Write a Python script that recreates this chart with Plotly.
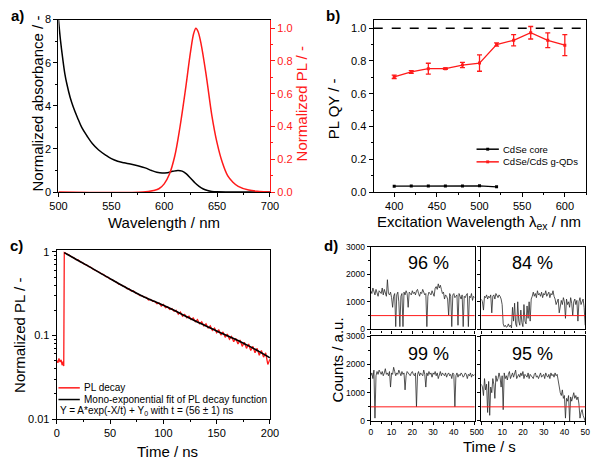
import plotly.graph_objects as go

FONT = "Liberation Sans, Arial, sans-serif"
W, H = 600, 463

# ---------------- Panel a data ----------------
abs_wl = [500, 502, 504, 506, 508, 511, 514, 518, 522, 527, 532, 538, 545, 550, 556, 562, 568, 575,
          582, 588, 593, 598, 603, 608, 613, 617, 621, 625, 629, 633, 637, 641, 645, 650, 660, 700]
abs_val = [8.0, 7.0, 6.2, 5.5, 5.0, 4.4, 3.95, 3.45, 3.0, 2.6, 2.25, 1.95, 1.7, 1.55, 1.43, 1.36, 1.3, 1.22,
           1.12, 1.0, 0.92, 0.88, 0.9, 0.96, 1.0, 0.97, 0.84, 0.64, 0.43, 0.26, 0.14, 0.07, 0.03, 0.01, 0.0, 0.0]
pl_wl = [500, 580, 590, 595, 600, 605, 610, 615, 620, 625, 628, 630, 632, 635, 640, 645, 650, 655,
         660, 665, 670, 680, 690, 700]
pl_val = [0.0, 0.0, 0.01, 0.02, 0.05, 0.11, 0.22, 0.4, 0.62, 0.86, 0.97, 1.0, 0.98, 0.9, 0.7, 0.47, 0.3, 0.18,
          0.1, 0.06, 0.035, 0.012, 0.004, 0.0]

# ---------------- Panel b data ----------------
qy_wl = [400, 420, 440, 460, 480, 500, 520, 540, 560, 580, 600]
qy_gqd = [0.703, 0.733, 0.753, 0.753, 0.775, 0.787, 0.90, 0.926, 0.972, 0.926, 0.896]
qy_gqd_err = [0.01, 0.008, 0.033, 0.004, 0.016, 0.05, 0.01, 0.034, 0.038, 0.045, 0.064]
core_wl = [400, 420, 440, 460, 480, 500, 520]
qy_core = [0.036, 0.037, 0.037, 0.037, 0.037, 0.038, 0.032]
qy_ref = 1.0
legend_b = ["CdSe core", "CdSe/CdS g-QDs"]

# ---------------- Panel c data ----------------
dec_t = [0, 1, 2, 3, 4, 5, 6, 6.5, 7] + list(range(8, 201, 2))
dec_y = [0.05, 0.047, 0.053, 0.048, 0.051, 0.044, 0.049, 0.043, 0.98,
         0.97, 0.93, 0.91, 0.87, 0.85, 0.81, 0.80, 0.76, 0.745, 0.71,
         0.70, 0.665, 0.655, 0.62, 0.605, 0.585, 0.57, 0.545, 0.535, 0.505,
         0.50, 0.47, 0.465, 0.445, 0.435, 0.41, 0.405, 0.39, 0.385, 0.36,
         0.36, 0.34, 0.34, 0.32, 0.315, 0.30, 0.30, 0.285, 0.285, 0.265,
         0.27, 0.255, 0.255, 0.24, 0.245, 0.225, 0.235, 0.215, 0.22, 0.205,
         0.21, 0.195, 0.20, 0.18, 0.19, 0.17, 0.178, 0.163, 0.17, 0.155,
         0.162, 0.146, 0.155, 0.138, 0.146, 0.13, 0.138, 0.123, 0.13, 0.115,
         0.122, 0.108, 0.117, 0.101, 0.11, 0.095, 0.104, 0.09, 0.097, 0.084,
         0.092, 0.079, 0.088, 0.074, 0.083, 0.07, 0.079, 0.066, 0.074, 0.062,
         0.07, 0.058, 0.066, 0.055, 0.062, 0.045, 0.052]
fit_t = [7, 10, 20, 30, 40, 50, 60, 70, 80, 90, 100, 110, 120, 130, 140, 150, 160, 170, 180, 190, 200]
fit_y = [0.98, 0.93, 0.79, 0.67, 0.565, 0.478, 0.405, 0.345, 0.297, 0.26, 0.23, 0.2, 0.172, 0.149,
         0.13, 0.113, 0.099, 0.087, 0.075, 0.064, 0.054]
legend_c = ["PL decay", "Mono-exponential fit of PL decay function"]
fit_note = "Y = A*exp(-X/t) + Y<sub>0</sub> with t = (56 ± 1) ns"

# ---------------- Panel d data ----------------
trace_t = [i * 0.5 for i in range(101)]
trace_96 = [1400, 1300, 1500, 1350, 1250, 1450, 1300, 1200, 1400, 1350,
            1300, 1500, 1250, 1450, 1350, 1200, 1800, 1300, 1250, 1350,
            1150, 800, 1200, 1300, 100, 1250, 1350, 1000, 100, 1200,
            1300, 100, 1350, 1250, 1400, 1300, 800, 1350, 1300, 1250,
            1400, 1300, 1350, 1250, 1400, 1450, 1300, 1200, 1350, 1300,
            1450, 1350, 1250, 1300, 100, 1200, 1350, 1300, 1250, 1400,
            1300, 1200, 1500, 1550, 1450, 1650, 1500, 1600, 1450, 1300,
            1350, 1100, 1250, 1200, 1100, 500, 1300, 1200, 100, 1250,
            1300, 1150, 1200, 1250, 150, 1300, 1200, 1100, 1250, 100,
            1200, 1150, 1250, 1300, 100, 1200, 1150, 1300, 1050, 1200, 1150]
trace_84 = [1100, 1000, 700, 1200, 1150, 1250, 1100, 1200, 1150, 1250,
            600, 1200, 1250, 1100, 1300, 1200, 1150, 1250, 1200, 1100,
            900, 200, 100, 150, 80, 100, 200, 100, 150, 50,
            800, 300, 950, 200, 100, 1000, 300, 150, 700, 250,
            100, 900, 300, 200, 850, 400, 1000, 300, 1100, 1200,
            1350, 1200, 1300, 1150, 1400, 1250, 1300, 1200, 1350, 1150,
            1300, 1250, 1400, 1200, 1300, 1350, 1150, 1300, 1250, 1400,
            1200, 1100, 900, 1000, 1100, 600, 950, 1050, 900, 1150,
            1000, 400, 1100, 900, 1000, 800, 1150, 950, 500, 1000,
            1100, 900, 1050, 300, 1000, 1150, 900, 1050, 1100, 800, 150]
trace_99 = [1600, 1700, 1500, 1800, 100, 1600, 1750, 1650, 1800, 1700,
            1650, 1750, 1600, 1700, 1850, 1650, 1700, 1600, 1750, 1200,
            1700, 1650, 1900, 1750, 1600, 1700, 1650, 1800, 1700, 1600,
            1750, 1650, 1700, 1100, 1600, 1750, 1700, 1650, 1600, 1700,
            1750, 1650, 1600, 1700, 500, 1650, 1750, 1600, 1700, 1650,
            1600, 1800, 1650, 1200, 1700, 1600, 1750, 1650, 1700, 1550,
            1700, 1650, 1750, 1600, 1700, 1500, 1650, 1750, 1600, 1700,
            1650, 1600, 1700, 1550, 1650, 1700, 1600, 1650, 1500, 1700,
            1650, 500, 1600, 1700, 1550, 1650, 1600, 1700, 1650, 1550,
            1600, 1700, 1650, 1500, 1650, 1600, 1700, 1550, 1650, 1600, 1650]
trace_95 = [1300, 1200, 900, 1500, 1100, 1300, 300, 1400, 200, 1200,
            1000, 1500, 1300, 800, 1600, 1400, 1500, 1700, 1550, 1200,
            1600, 400, 1700, 1500, 1600, 1450, 1650, 1750, 1500, 1600,
            1700, 1550, 1650, 1800, 1500, 1600, 1650, 1550, 1700, 1600,
            1750, 1500, 1650, 1600, 1550, 1700, 1500, 1650, 1600, 1550,
            1500, 1650, 1700, 1550, 1600, 1500, 1650, 1700, 1550, 1600,
            1650, 1500, 1700, 1600, 1550, 1650, 1500, 1700, 1600, 1650,
            1550, 1700, 1600, 1650, 1400, 1200, 1000, 900, 1100, 800,
            900, 100, 800, 700, 900, 0, 850, 700, 900, 1000,
            800, 900, 750, 850, 600, 100, 300, 400, 200, 100, 0]
traces_d = [trace_96, trace_84, trace_99, trace_95]
labels_d = ["96 %", "84 %", "99 %", "95 %"]
threshold = 500

RED = "#ff1a1a"

fig = go.Figure()

# Panel a
fig.add_trace(go.Scatter(x=abs_wl, y=abs_val, mode="lines", line=dict(color="black", width=1.5, shape="spline"),
                         xaxis="x", yaxis="y", showlegend=False))
fig.add_trace(go.Scatter(x=pl_wl, y=pl_val, mode="lines", line=dict(color=RED, width=1.5, shape="spline"),
                         xaxis="x", yaxis="y2", showlegend=False))

# Panel b
fig.add_trace(go.Scatter(x=core_wl, y=qy_core, mode="lines+markers", name=legend_b[0],
                         line=dict(color="black", width=1.3), marker=dict(symbol="square", size=3, color="black"),
                         xaxis="x2", yaxis="y3", showlegend=False))
fig.add_trace(go.Scatter(x=qy_wl, y=qy_gqd, mode="lines+markers", name=legend_b[1],
                         line=dict(color=RED, width=1.3), marker=dict(symbol="square", size=3, color=RED),
                         error_y=dict(type="data", array=qy_gqd_err, color=RED, thickness=1.3, width=2.5),
                         xaxis="x2", yaxis="y3", showlegend=False))

# Panel c
fig.add_trace(go.Scatter(x=dec_t, y=dec_y, mode="lines", name=legend_c[0],
                         line=dict(color=RED, width=1.3), xaxis="x3", yaxis="y4", showlegend=False))
fig.add_trace(go.Scatter(x=fit_t, y=fit_y, mode="lines", name=legend_c[1],
                         line=dict(color="black", width=1.6, shape="spline"), xaxis="x3", yaxis="y4",
                         showlegend=False))

# Panel d
for i, tr in enumerate(traces_d):
    fig.add_trace(go.Scatter(x=trace_t, y=tr, mode="lines", line=dict(color="#2a2a2a", width=0.8),
                             xaxis=f"x{4 + i}", yaxis=f"y{5 + i}", showlegend=False))

def px_x(p):
    return p / W

def px_y(p):
    return 1 - p / H

axis_common = dict(showline=True, linecolor="black", linewidth=1.3, ticks="outside", ticklen=4,
                   tickwidth=1.2, tickcolor="black", showgrid=False, zeroline=False,
                   tickfont=dict(family=FONT, size=11, color="black"))

dom_a_x = [px_x(51), px_x(269)]
dom_top_y = [px_y(191), px_y(14)]
dom_b_x = [px_x(376), px_x(595)]
dom_c_x = [px_x(49.3), px_x(269)]
dom_c_y = [px_y(424), px_y(250.7)]
dl_x = [px_x(373), px_x(480)]
dr_x = [px_x(487), px_x(594)]
dt_y = [px_y(332), px_y(247)]
db_y = [px_y(426), px_y(339)]

layout = dict(
    width=W, height=H, autosize=False, margin=dict(l=0, r=0, t=0, b=0),
    paper_bgcolor="white", plot_bgcolor="white", showlegend=False,
    font=dict(family=FONT, size=11, color="black"),
    xaxis=dict(axis_common, domain=dom_a_x, range=[500, 700], anchor="y", dtick=50, mirror=True,
               minor=dict(ticks="outside", ticklen=2, dtick=25, tickcolor="black")),
    yaxis=dict(axis_common, domain=dom_top_y, range=[0, 8], anchor="x", dtick=2,
               minor=dict(ticks="outside", ticklen=2, dtick=1, tickcolor="black")),
    yaxis2=dict(axis_common, overlaying="y", side="right", anchor="x", range=[0, 1.052], dtick=0.2,
                tickformat=".1f", linecolor=RED, tickcolor=RED, tickfont=dict(family=FONT, size=11, color=RED),
                minor=dict(ticks="outside", ticklen=2, dtick=0.1, tickcolor=RED)),
    xaxis2=dict(axis_common, domain=dom_b_x, range=[376, 625], anchor="y3", dtick=50, mirror=True,
                minor=dict(ticks="outside", ticklen=2, dtick=25, tickcolor="black")),
    yaxis3=dict(axis_common, domain=dom_top_y, range=[0, 1.052], anchor="x2", dtick=0.2, tickformat=".1f",
                mirror=True, minor=dict(ticks="outside", ticklen=2, dtick=0.1, tickcolor="black")),
    xaxis3=dict(axis_common, domain=dom_c_x, range=[0, 200], anchor="y4", dtick=50, mirror=True,
                minor=dict(ticks="outside", ticklen=2, dtick=25, tickcolor="black")),
    yaxis4=dict(axis_common, domain=dom_c_y, type="log", range=[-2, 0.02], anchor="x3", mirror=True,
                tickmode="array", tickvals=[0.01, 0.1, 1], ticktext=["0.01", "0.1", "1"],
                minor=dict(ticks="outside", ticklen=2, tickcolor="black", tickmode="array",
                           tickvals=[0.02, 0.03, 0.04, 0.05, 0.06, 0.07, 0.08, 0.09,
                                     0.2, 0.3, 0.4, 0.5, 0.6, 0.7, 0.8, 0.9])),
)

d_font = dict(family=FONT, size=8.5, color="black")
for i in range(4):
    xd = dl_x if i % 2 == 0 else dr_x
    yd = dt_y if i < 2 else db_y
    layout[f"xaxis{4 + i}"] = dict(axis_common, domain=xd, range=[0, 50], anchor=f"y{5 + i}", dtick=10,
                                   mirror=True, ticklen=3, showticklabels=(i >= 2), tickfont=d_font,
                                   minor=dict(ticks="outside", ticklen=2, dtick=5, tickcolor="black"))
    layout[f"yaxis{5 + i}"] = dict(axis_common, domain=yd, range=[0, 3000], anchor=f"x{4 + i}", dtick=1000,
                                   mirror=True, ticklen=3, showticklabels=(i % 2 == 0), tickfont=d_font,
                                   minor=dict(ticks="outside", ticklen=2, dtick=500, tickcolor="black"))

fig.update_layout(**layout)

# Reference lines
fig.add_shape(type="line", xref="x2 domain", x0=0, x1=1, yref="y3", y0=qy_ref, y1=qy_ref,
              line=dict(color="black", width=1.5, dash="dash"))
for i in range(4):
    fig.add_shape(type="line", xref=f"x{4 + i} domain", x0=0, x1=1, yref=f"y{5 + i}", y0=threshold, y1=threshold,
                  line=dict(color=RED, width=1))

def ann(text, x, y, size=15, angle=0, color="black", xanchor="center", bold=False):
    fig.add_annotation(text=f"<b>{text}</b>" if bold else text, x=px_x(x), y=px_y(y), xref="paper", yref="paper",
                       showarrow=False, textangle=angle, xanchor=xanchor, yanchor="middle",
                       font=dict(family=FONT, size=size, color=color))

def legend_item(x0, x1, y, color, label, size, marker=False):
    fig.add_shape(type="line", xref="paper", yref="paper", x0=px_x(x0), x1=px_x(x1), y0=px_y(y), y1=px_y(y),
                  line=dict(color=color, width=1.5))
    if marker:
        xm = (x0 + x1) / 2
        fig.add_shape(type="rect", xref="paper", yref="paper", x0=px_x(xm - 1.5), x1=px_x(xm + 1.5),
                      y0=px_y(y - 1.5), y1=px_y(y + 1.5), line=dict(width=0), fillcolor=color)
    ann(label, x1 + 2, y, size=size, xanchor="left")

# Manual legends (panel b and c)
legend_item(482, 505, 147, "black", legend_b[0], 9.5, marker=True)
legend_item(482, 505, 160, RED, legend_b[1], 9.5, marker=True)
legend_item(51, 73, 392, RED, legend_c[0], 10)
legend_item(51, 73, 404, "black", legend_c[1], 10)
ann(fit_note, 50, 416, size=10, xanchor="left")

# Panel letters
ann("a)", 9, 10, size=15, bold=True)
ann("b)", 334, 10, size=15, bold=True)
ann("c)", 8, 246, size=15, bold=True)
ann("d)", 332, 246, size=15, bold=True)

# Axis titles
ann("Normalized absorbance / -", 29, 100, size=15, angle=-90)
ann("Normalized PL / -", 301, 100, size=15, angle=-90, color=RED)
ann("Wavelength / nm", 160, 222, size=15)
ann("PL QY / -", 334, 105, size=15, angle=-90)
ann("Excitation Wavelength λ<sub>ex</sub> / nm", 485, 222, size=15)
ann("Normalized PL / -", 11, 338, size=15, angle=-90)
ann("Time / ns", 163, 457, size=15)
ann("Counts / a.u.", 339, 363, size=15, angle=-90)
ann("Time / s", 495, 452, size=15)

# Panel d percentages
pos_d = [(432, 264), (540, 264), (432, 357), (540, 357)]
for lab, (x, y) in zip(labels_d, pos_d):
    ann(lab, x, y, size=18)

fig.write_html("out.html")
